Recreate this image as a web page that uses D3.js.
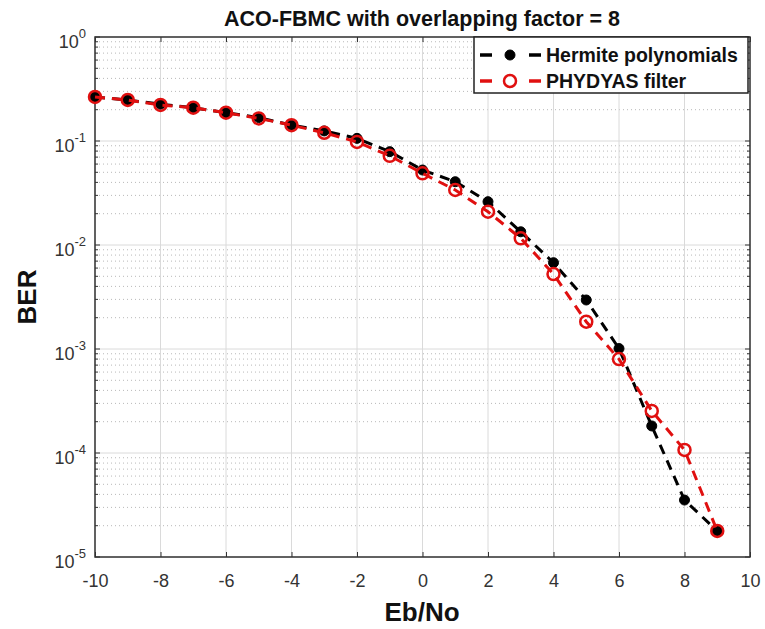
<!DOCTYPE html>
<html>
<head>
<meta charset="utf-8">
<script src="https://cdn.jsdelivr.net/npm/d3@7"></script>
<style>
  body { margin: 0; background: #fff; }
  svg { font-family: "Liberation Sans", Arial, sans-serif; }
</style>
</head>
<body>
<svg id="chart"></svg>
<script>
// Eb/No values (dB)
const ebno = [-10, -9, -8, -7, -6, -5, -4, -3, -2, -1, 0, 1, 2, 3, 4, 5, 6, 7, 8, 9];
// BER
const hermite = [0.265, 0.248, 0.226, 0.209, 0.187, 0.168, 0.142, 0.125, 0.106, 0.079,
  0.0526, 0.0406, 0.0261, 0.0134, 0.00676, 0.00296, 0.00101, 0.000182, 3.53e-5, 1.78e-5];
const phydyas = [0.265, 0.248, 0.222, 0.209, 0.187, 0.165, 0.142, 0.12, 0.098, 0.072,
  0.0489, 0.0338, 0.0209, 0.0116, 0.00526, 0.00183, 0.0008, 0.000254, 0.000107, 1.78e-5];
const xTicks = [-10, -8, -6, -4, -2, 0, 2, 4, 6, 8, 10];
const yExps = [0, -1, -2, -3, -4, -5];
const title = "ACO-FBMC with overlapping factor = 8";
const legendLabels = ["Hermite polynomials", "PHYDYAS filter"];

const width = 765, height = 629;
const mLeft = 95, mRight = 750, mTop = 37, mBottom = 557;

const svg = d3.select("#chart").attr("width", width).attr("height", height);

const x = d3.scaleLinear().domain([-10, 10]).range([mLeft, mRight]);
const y = d3.scaleLog().domain([1e-5, 1]).range([mBottom, mTop]);

// minor grid (dotted)
const minors = [];
for (let e = -5; e < 0; e++) for (let m = 2; m <= 9; m++) minors.push(m * Math.pow(10, e));
svg.append("g").selectAll("line").data(minors).join("line")
  .attr("x1", mLeft).attr("x2", mRight)
  .attr("y1", d => y(d)).attr("y2", d => y(d))
  .attr("stroke", "#b8b8b8").attr("stroke-width", 1).attr("stroke-dasharray", "1,3");

// major grid
svg.append("g").selectAll("line").data(yExps).join("line")
  .attr("x1", mLeft).attr("x2", mRight)
  .attr("y1", d => y(Math.pow(10, d))).attr("y2", d => y(Math.pow(10, d)))
  .attr("stroke", "#dadada").attr("stroke-width", 1);
svg.append("g").selectAll("line").data(xTicks).join("line")
  .attr("x1", d => x(d)).attr("x2", d => x(d))
  .attr("y1", mTop).attr("y2", mBottom)
  .attr("stroke", "#dadada").attr("stroke-width", 1);

// axes (ticks inside)
svg.append("g").attr("transform", `translate(0,${mBottom})`)
  .call(d3.axisBottom(x).tickValues(xTicks).tickSize(-5).tickPadding(17).tickFormat(d => String(d)))
  .call(g => g.select(".domain").remove())
  .call(g => g.selectAll("text").attr("font-size", 18).attr("fill", "#333").attr("font-family", "Liberation Sans, Arial, sans-serif"))
  .call(g => g.selectAll("line").attr("stroke", "#333"));
svg.append("g").attr("transform", `translate(0,${mTop})`)
  .call(d3.axisTop(x).tickValues(xTicks).tickSize(-5).tickFormat(""))
  .call(g => g.select(".domain").remove())
  .call(g => g.selectAll("line").attr("stroke", "#333"));

[mLeft, mRight].forEach(px => {
  const dir = px === mLeft ? 1 : -1;
  svg.append("g").selectAll("line").data(yExps).join("line")
    .attr("x1", px).attr("x2", px + dir * 5)
    .attr("y1", d => y(Math.pow(10, d))).attr("y2", d => y(Math.pow(10, d)))
    .attr("stroke", "#333");
  svg.append("g").selectAll("line").data(minors).join("line")
    .attr("x1", px).attr("x2", px + dir * 3)
    .attr("y1", d => y(d)).attr("y2", d => y(d))
    .attr("stroke", "#333");
});

// y tick labels 10^n
const yl = svg.append("g").selectAll("text").data(yExps).join("text")
  .attr("x", mLeft - 9).attr("y", d => y(Math.pow(10, d)) + 11)
  .attr("text-anchor", "end").attr("fill", "#333").attr("font-size", 18);
yl.append("tspan").text("10");
yl.append("tspan").attr("dy", -10).attr("font-size", 13).text(d => d);

// box
svg.append("rect").attr("x", mLeft).attr("y", mTop)
  .attr("width", mRight - mLeft).attr("height", mBottom - mTop)
  .attr("fill", "none").attr("stroke", "#333").attr("stroke-width", 1.5);

// series
const line = d3.line().x(d => x(d[0])).y(d => y(d[1]));
const sers = [
  { vals: hermite, color: "#000", filled: true },
  { vals: phydyas, color: "#e01010", filled: false }
];
sers.forEach(s => {
  const pts = ebno.map((e, i) => [e, s.vals[i]]);
  svg.append("path").datum(pts)
    .attr("fill", "none").attr("stroke", s.color).attr("stroke-width", 3)
    .attr("stroke-dasharray", "10,7").attr("d", line);
  svg.append("g").selectAll("circle").data(pts).join("circle")
    .attr("cx", d => x(d[0])).attr("cy", d => y(d[1]))
    .attr("r", s.filled ? 5 : 6)
    .attr("fill", s.filled ? s.color : "none")
    .attr("stroke", s.color).attr("stroke-width", s.filled ? 1 : 2.5);
});

// legend
const lg = svg.append("g");
lg.append("rect").attr("x", 474).attr("y", mTop).attr("width", mRight - 2 - 474).attr("height", 56)
  .attr("fill", "#fff").attr("stroke", "#222").attr("stroke-width", 1.5);
sers.forEach((s, i) => {
  const ly = 55 + i * 26;
  [[480, 492], [529, 541]].forEach(seg => {
    lg.append("line").attr("x1", seg[0]).attr("x2", seg[1]).attr("y1", ly).attr("y2", ly)
      .attr("stroke", s.color).attr("stroke-width", 3.5);
  });
  lg.append("circle").attr("cx", 510).attr("cy", ly).attr("r", s.filled ? 5 : 6)
    .attr("fill", s.filled ? s.color : "#fff").attr("stroke", s.color).attr("stroke-width", s.filled ? 1 : 2.5);
  lg.append("text").attr("x", 546).attr("y", ly + 7).attr("font-size", 19.5).attr("font-weight", "bold")
    .attr("fill", "#111").text(legendLabels[i]);
});

// title and labels
svg.append("text").attr("x", 422).attr("y", 26).attr("text-anchor", "middle")
  .attr("font-size", 21.5).attr("font-weight", "bold").attr("fill", "#111").text(title);
svg.append("text").attr("x", 422).attr("y", 621).attr("text-anchor", "middle")
  .attr("font-size", 26).attr("font-weight", "bold").attr("fill", "#111").text("Eb/No");
svg.append("text").attr("transform", `translate(36,${(mTop + mBottom) / 2}) rotate(-90)`)
  .attr("text-anchor", "middle").attr("font-size", 26).attr("font-weight", "bold")
  .attr("fill", "#111").text("BER");
</script>
</body>
</html>
